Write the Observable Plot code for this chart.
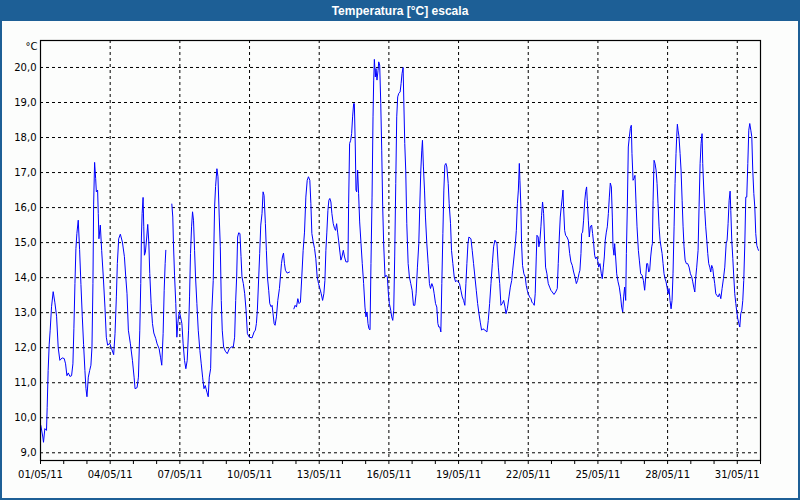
<!DOCTYPE html>
<html>
<head>
<meta charset="utf-8">
<script src="https://cdn.jsdelivr.net/npm/d3@7"></script>
<script src="https://cdn.jsdelivr.net/npm/@observablehq/plot@0.6"></script>
<style>
  html, body { margin: 0; padding: 0; background: #fdfefd; }
  #win { width: 800px; height: 500px; box-sizing: border-box; border: 2px solid #1d5f96; border-top: none; background: #fcfdfc; overflow: hidden; }
  #title { height: 21px; margin: 0 -2px; background: #1d5f96; color: #fff; font: bold 12px "Liberation Sans", Tahoma, sans-serif; text-align: center; line-height: 22px; }
  svg { display: block; }
</style>
</head>
<body>
<div id="win">
  <div id="title">Temperatura [°C] escala</div>
  <div id="chart"></div>
</div>
<script>
// hours since 01/05/2011 00:00
const hours = [
0.35,2.4,3.1,4.5,6.2,6.9,7.9,9.0,10.0,11.4,13.1,14.8,16.6,18.3,20.0,22.4,24.5,25.9,27.3,28.7,30.4,32.1,33.5,34.5,35.6,36.6,37.6,39.0,40.4,41.8,43.2,44.5,45.9,47.0,48.0,49.4,50.8,52.1,53.2,54.2,54.9,55.9,57.0,57.7,59.0,59.7,60.4,61.8,63.2,64.9,66.6,68.0,69.4,71.5,73.5,75.6,77.0,78.4,79.4,80.8,82.5,84.6,86.7,88.1,89.4,90.8,92.9,95.0,96.7,97.7,99.8,101.2,102.6,103.6,104.3,105.0,106.0,106.7,107.4,108.4,109.8,110.8,111.9,112.9,114.3,115.7,117.1,119.1,120.5,122.6,124.0,125.3,126.7,127.8,128.8,129.5,
132.0,
135.7,136.7,137.4,138.5,139.8,140.9,141.9,142.6,143.6,144.7,146.1,147.4,148.8,150.2,151.6,153.0,154.0,155.0,156.1,157.1,158.1,159.2,160.2,161.6,163.0,164.7,166.1,167.5,168.9,170.2,172.0,173.3,174.4,175.8,177.1,178.5,179.9,180.9,182.3,183.4,184.7,185.8,186.8,187.8,189.2,191.0,193.0,195.1,197.2,199.2,200.6,201.7,202.7,203.7,204.8,206.1,207.2,208.2,209.6,211.0,212.4,213.8,215.8,218.6,220.7,222.0,223.1,224.1,225.5,226.5,227.6,228.9,230.0,231.0,232.4,233.4,234.5,235.8,236.9,238.3,239.3,240.3,241.4,242.4,243.8,
245.2,246.9,247.9,249.0,250.0,251.1,252.1,253.1,254.9,257.3,
259.5,
261.8,263.1,264.5,265.9,267.2,268.6,270.0,271.4,272.8,274.2,275.6,276.9,278.3,279.4,280.4,281.8,283.2,284.5,285.9,287.3,288.7,290.1,291.5,292.8,293.9,294.9,295.9,297.0,298.0,299.0,300.1,301.1,302.5,303.9,304.9,306.0,307.0,308.0,309.4,310.4,311.5,312.9,314.2,315.6,317.7,318.4,319.4,320.5,321.5,322.5,323.6,324.3,325.3,326.0,326.7,327.7,328.7,329.8,331.2,332.5,333.9,335.3,336.3,337.4,338.4,339.4,340.5,341.5,342.6,343.6,344.3,345.0,346.0,346.7,347.7,348.8,349.5,350.5,351.6,352.6,353.6,354.6,356.0,357.1,358.4,359.5,360.5,361.9,362.9,364.0,365.0,366.0,367.1,368.1,369.1,370.2,371.6,372.6,373.6,374.7,375.4,376.4,377.4,378.5,379.9,381.2,382.6,384.0,385.4,386.8,388.1,389.5,390.9,391.9,393.0,394.0,394.7,395.7,396.8,397.8,399.2,400.6,401.9,403.0,404.4,405.7,406.8,408.2,409.5,410.6,411.6,412.7,413.7,414.7,415.8,416.8,417.8,418.9,419.9,421.3,422.3,423.7,424.7,426.1,427.5,428.9,430.3,431.6,433.0,434.4,435.8,437.2,438.5,439.6,440.6,441.7,442.7,444.8,446.1,447.5,448.9,450.3,451.7,453.1,454.4,455.8,457.2,459.3,461.3,462.7,464.1,465.5,466.9,468.2,469.6,471.7,473.1,474.5,475.8,477.2,478.6,480.0,481.0,482.4,484.1,485.5,486.9,487.9,489.3,490.7,491.7,492.8,493.8,494.8,
495.4,496.4,497.1,498.1,499.5,500.9,501.9,503.0,504.0,505.4,506.8,507.8,509.2,510.2,511.2,512.3,513.0,514.3,515.0,516.1,517.1,517.8,518.8,519.9,520.9,521.9,523.3,524.7,526.1,527.4,528.8,530.6,532.3,534.0,535.0,536.1,537.1,538.1,539.2,539.9,540.5,541.6,542.6,544.0,545.4,546.8,548.1,549.5,550.9,552.3,553.7,555.0,556.4,557.4,558.5,559.2,560.2,561.2,562.3,563.3,564.3,565.0,566.1,567.1,568.1,569.5,570.5,571.6,572.6,573.6,574.7,575.7,576.8,578.1,579.5,580.5,581.6,582.6,583.6,584.7,585.7,586.8,587.8,588.8,589.9,590.9,591.6,592.6,593.3,594.3,595.4,596.8,598.1,599.5,600.5,601.6,602.6,603.6,604.7,605.4,606.4,607.4,608.5,609.5,610.5,611.2,612.3,613.3,614.3,615.4,616.4,617.8,618.8,620.2,621.6,623.0,624.3,625.4,626.4,627.4,628.5,629.5,630.5,631.6,632.3,633.0,634.0,635.0,636.1,637.1,638.1,639.2,640.2,641.2,642.3,643.3,644.3,645.4,646.4,647.4,648.5,649.5,650.5,651.6,652.6,653.6,654.7,655.7,656.7,657.4,658.1,658.8,659.8,660.9,661.9,663.0,664.0,665.0,666.1,667.4,668.8,670.2,671.6,673.0,674.0,675.0,676.1,677.1,678.1,679.5,680.5,681.6,682.6,683.6,684.3,685.4,686.4,687.4,688.5,689.5,690.5,691.6,692.6,693.6,694.7,695.7,696.7,697.8,698.8,700.2,701.6,703.0,704.3,705.7,707.1,708.5,709.5,710.5,711.6,712.6,713.3,714.3,715.4,716.4,717.4,718.5,719.5,720.5,721.6,722.6,723.6,724.7,725.7,726.7,727.8,728.8,729.8,730.9,731.9,732.9,734.0,735.0,736.0,737.1,738.1,739.1,740.2,741.2,741.9
];
// temperature [°C]; null = missing reading
const temps = [
9.78,9.45,9.3,9.69,9.64,10.3,11.35,12.1,12.5,13.17,13.6,13.3,12.9,12.0,11.64,11.71,11.69,11.54,11.2,11.28,11.18,11.2,11.54,12.54,13.83,14.83,15.26,15.64,14.8,13.8,12.88,12.1,11.35,10.83,10.6,11.16,11.35,11.5,12.02,13.83,16.1,17.29,16.83,16.45,16.5,15.83,15.11,15.5,14.78,14.02,13.16,12.3,12.07,12.13,11.97,11.8,12.4,13.45,14.4,15.11,15.24,15.02,14.6,14.02,13.54,12.5,12.11,11.64,11.16,10.83,10.86,11.16,12.5,13.83,15.16,15.83,16.29,15.45,14.64,14.73,15.16,15.52,15.02,14.12,13.26,12.69,12.42,12.26,12.11,11.97,11.73,11.5,12.4,13.64,14.4,14.78,
null,
16.1,15.73,14.97,14.07,13.26,12.3,12.69,12.88,13.02,12.88,12.69,12.11,11.64,11.4,11.64,12.5,13.45,14.69,15.45,15.88,15.64,14.78,14.02,13.26,12.5,11.92,11.54,11.16,10.83,10.92,10.73,10.6,11.16,11.4,13.07,13.92,16.02,16.6,17.11,16.88,15.73,14.88,13.35,12.5,12.02,11.9,11.83,11.97,12.02,12.02,12.3,13.35,14.02,15.16,15.28,15.26,14.6,14.02,13.83,13.54,13.07,12.4,12.3,12.28,12.45,12.5,12.69,13.07,14.02,14.69,15.5,15.83,16.45,16.35,15.54,14.78,14.02,13.64,13.26,13.17,13.21,12.97,12.69,12.64,12.88,
13.35,13.69,14.02,14.4,14.59,14.7,14.4,14.21,14.13,14.16,
null,
13.11,13.21,13.16,13.4,13.26,13.3,14.02,14.78,15.3,16.3,16.78,16.88,16.78,16.11,15.26,15.02,14.83,14.54,14.02,13.83,13.69,13.54,13.35,13.54,13.92,14.78,15.3,15.92,16.21,16.26,16.16,15.83,15.54,15.4,15.35,15.54,15.3,15.07,14.73,14.5,14.59,14.78,14.59,14.45,14.45,16.11,17.83,17.92,18.11,18.59,18.97,18.97,17.73,16.5,16.45,17.07,16.4,15.59,14.97,14.4,13.83,13.16,12.88,13.02,12.69,12.54,12.51,14.4,16.3,18.59,19.64,20.23,19.73,19.97,19.64,19.92,20.16,20.07,18.97,17.64,16.02,14.97,14.02,14.07,14.02,13.54,13.26,13.07,12.88,12.78,13.07,14.59,16.69,18.59,19.16,19.26,19.3,19.54,19.83,20.0,19.07,17.83,17.07,15.54,14.4,14.02,13.83,13.64,13.21,13.21,13.54,14.3,14.97,16.02,17.07,17.64,17.92,17.16,16.5,15.73,14.97,14.4,13.83,13.69,13.83,13.73,13.54,13.26,13.16,12.69,12.59,12.59,12.45,13.83,15.26,16.5,17.21,17.26,17.16,16.69,16.11,15.54,14.78,14.4,14.02,13.88,13.92,13.88,13.83,13.64,13.45,13.35,13.21,13.83,14.4,14.97,15.16,15.11,14.78,14.4,14.02,13.64,13.26,12.97,12.73,12.5,12.54,12.5,12.45,12.78,13.26,13.83,14.4,14.88,15.07,14.97,14.3,13.83,13.21,13.26,13.35,13.16,12.97,13.11,13.45,13.73,13.92,14.21,14.59,14.97,15.35,16.11,16.5,17.26,
16.78,16.02,14.97,14.35,14.11,14.02,13.78,13.64,13.54,13.45,13.4,13.3,13.26,13.21,13.54,14.59,15.21,15.16,14.88,15.07,15.45,15.78,16.16,15.83,15.07,14.3,14.11,13.83,13.73,13.64,13.59,13.52,13.59,13.69,14.4,15.16,15.73,16.02,16.3,16.5,16.02,15.35,15.21,15.16,15.07,14.69,14.45,14.35,14.16,14.02,13.83,13.92,14.11,14.21,14.69,15.26,15.3,15.64,16.16,16.45,16.59,16.2,15.64,15.16,15.45,15.5,15.26,14.97,14.64,14.54,14.59,14.5,14.3,14.4,14.11,13.97,14.3,14.59,15.07,15.3,15.45,15.83,16.3,16.7,16.59,15.73,14.88,14.64,14.97,14.59,14.11,13.88,13.73,13.45,13.16,13.02,13.45,13.73,13.35,14.69,16.02,17.73,18.02,18.26,18.35,17.54,16.78,16.83,16.92,16.11,15.45,14.78,14.5,14.11,14.07,13.92,13.64,14.02,14.4,14.4,14.16,14.21,14.59,14.88,14.97,16.21,17.35,17.26,17.07,16.69,16.11,15.45,15.07,14.88,14.69,14.4,14.11,13.97,13.88,13.73,13.54,13.69,13.35,13.11,13.35,14.11,15.45,16.69,17.54,18.02,18.38,18.21,18.02,17.54,17.07,16.21,15.45,14.88,14.5,14.4,14.4,14.3,14.11,14.02,13.88,13.73,13.59,14.02,14.3,14.78,16.02,17.26,17.83,18.11,17.26,16.5,15.92,15.45,15.07,14.69,14.4,14.3,14.16,14.35,14.26,14.02,13.83,13.54,13.5,13.45,13.54,13.4,13.69,13.97,14.3,14.97,15.07,15.54,16.21,16.47,15.92,15.07,14.54,14.02,13.54,13.26,13.02,12.83,12.69,12.59,12.97,13.07,13.35,13.92,14.97,16.3,16.3,17.26,18.21,18.4,18.21,18.02,17.07,16.4,16.02,15.26,14.92,14.83,14.78
];
const yTicks = [9, 10, 11, 12, 13, 14, 15, 16, 17, 18, 19, 20];
const dayLabels = ["01/05/11","04/05/11","07/05/11","10/05/11","13/05/11","16/05/11","19/05/11","22/05/11","25/05/11","28/05/11","31/05/11"];
const nDays = 31;

const data = hours.map((h, i) => ({h, t: temps[i]}));
const dayTicks = d3.range(0, nDays * 24 + 1, 24);
const majorTicks = dayLabels.map((_, i) => i * 72);
const labelFor = h => (h % 72 === 0 && dayLabels[h / 72] !== undefined) ? dayLabels[h / 72] : "";

const chart = Plot.plot({
  width: 796,
  height: 477,
  marginLeft: 38,
  marginRight: 38,
  marginTop: 19,
  marginBottom: 38,
  style: {fontFamily: "'DejaVu Sans', Verdana, sans-serif", fontSize: "10px", color: "#000", background: "transparent"},
  x: {domain: [0, nDays * 24]},
  y: {domain: [8.78, 20.77]},
  marks: [
    Plot.ruleY(yTicks, {stroke: "#000", strokeDasharray: "3,3", strokeWidth: 1}),
    Plot.ruleX(majorTicks.filter(h => h > 0), {stroke: "#000", strokeDasharray: "3,3", strokeWidth: 1}),
    Plot.line(data, {x: "h", y: "t", stroke: "#0000ff", strokeWidth: 1}),
    Plot.frame({stroke: "#000", strokeWidth: 1.2}),
    Plot.axisY(yTicks, {tickSize: 0, tickPadding: 4, tickFormat: d => d.toFixed(1).replace(".", ","), label: null}),
    Plot.axisX(dayTicks, {tickSize: 4, tickPadding: 6, tickFormat: labelFor, label: null, stroke: "#000"}),
    Plot.text(["°C"], {frameAnchor: "top-left", textAnchor: "end", dx: -3, dy: 2, fill: "#000"})
  ]
});
document.getElementById("chart").appendChild(chart);
</script>
</body>
</html>
